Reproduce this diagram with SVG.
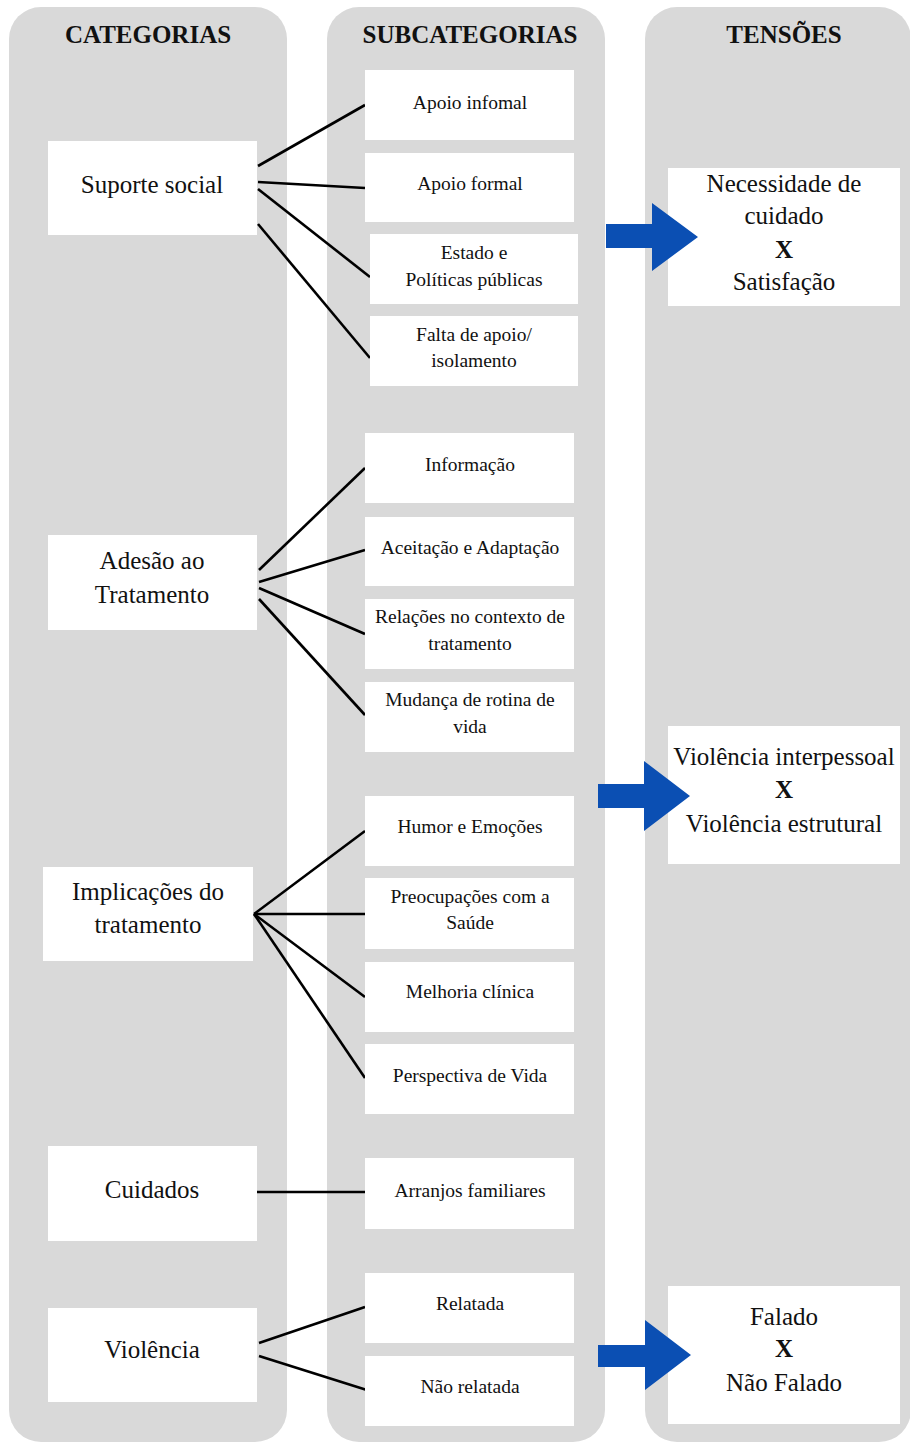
<svg xmlns="http://www.w3.org/2000/svg" width="910" height="1443" viewBox="0 0 910 1443">
<style>
.panel{fill:#d9d9d9}
.box{fill:#ffffff}
text{font-family:"Liberation Serif","Times New Roman",serif;fill:#111;text-anchor:middle}
.hd{font-size:25px;font-weight:bold}
.cat{font-size:25px}
.sub{font-size:19.5px}
.ten{font-size:25px}
.x{font-weight:bold}
.conn line{stroke:#000;stroke-width:2.6}
.arrow{fill:#0b4fb3}
</style>
<rect width="910" height="1443" fill="#ffffff"/>
<g id="panels">
<rect class="panel" x="9" y="7" width="278" height="1435" rx="32"/>
<rect class="panel" x="327" y="7" width="278" height="1435" rx="32"/>
<rect class="panel" x="645" y="7" width="266" height="1435" rx="32"/>
<text class="hd" x="148" y="43">CATEGORIAS</text>
<text class="hd" x="470" y="43">SUBCATEGORIAS</text>
<text class="hd" x="784" y="43">TENSÕES</text>
</g>
<g id="connectors" class="conn">
<line x1="258" y1="166" x2="365" y2="105"/>
<line x1="258" y1="182" x2="365" y2="188"/>
<line x1="258" y1="189" x2="370" y2="277"/>
<line x1="258" y1="224" x2="370" y2="358"/>
<line x1="259" y1="570" x2="365" y2="468"/>
<line x1="259" y1="582" x2="365" y2="550"/>
<line x1="259" y1="588" x2="365" y2="634"/>
<line x1="259" y1="599" x2="365" y2="715"/>
<line x1="254" y1="914" x2="365" y2="831"/>
<line x1="254" y1="914" x2="365" y2="914"/>
<line x1="254" y1="914" x2="365" y2="997"/>
<line x1="254" y1="914" x2="365" y2="1078"/>
<line x1="257" y1="1192" x2="365" y2="1192"/>
<line x1="259" y1="1343" x2="365" y2="1307"/>
<line x1="259" y1="1356" x2="370" y2="1391"/>
</g>
<g id="cat-suporte"><rect class="box" x="48" y="141" width="209" height="94"/><text class="cat" x="152" y="193">Suporte social</text></g>
<g id="cat-adesao"><rect class="box" x="48" y="535" width="209" height="95"/><text class="cat" x="152" y="569">Adesão ao</text><text class="cat" x="152" y="603">Tratamento</text></g>
<g id="cat-implicacoes"><rect class="box" x="43" y="867" width="210" height="94"/><text class="cat" x="148" y="900">Implicações do</text><text class="cat" x="148" y="933">tratamento</text></g>
<g id="cat-cuidados"><rect class="box" x="48" y="1146" width="209" height="95"/><text class="cat" x="152" y="1198">Cuidados</text></g>
<g id="cat-violencia"><rect class="box" x="48" y="1308" width="209" height="94"/><text class="cat" x="152" y="1358">Violência</text></g>
<g id="sub-apoio-infomal"><rect class="box" x="365" y="70" width="209" height="70"/><text class="sub" x="470" y="109">Apoio infomal</text></g>
<g id="sub-apoio-formal"><rect class="box" x="365" y="153" width="209" height="69"/><text class="sub" x="470" y="190">Apoio formal</text></g>
<g id="sub-estado"><rect class="box" x="370" y="234" width="208" height="70"/><text class="sub" x="474" y="259">Estado e</text><text class="sub" x="474" y="286">Políticas públicas</text></g>
<g id="sub-falta"><rect class="box" x="370" y="316" width="208" height="70"/><text class="sub" x="474" y="341">Falta de apoio/</text><text class="sub" x="474" y="367">isolamento</text></g>
<g id="sub-informacao"><rect class="box" x="365" y="433" width="209" height="70"/><text class="sub" x="470" y="471">Informação</text></g>
<g id="sub-aceitacao"><rect class="box" x="365" y="517" width="209" height="69"/><text class="sub" x="470" y="554">Aceitação e Adaptação</text></g>
<g id="sub-relacoes"><rect class="box" x="365" y="599" width="209" height="70"/><text class="sub" x="470" y="623">Relações no contexto de</text><text class="sub" x="470" y="650">tratamento</text></g>
<g id="sub-mudanca"><rect class="box" x="365" y="682" width="209" height="70"/><text class="sub" x="470" y="706">Mudança de rotina de</text><text class="sub" x="470" y="733">vida</text></g>
<g id="sub-humor"><rect class="box" x="365" y="796" width="209" height="70"/><text class="sub" x="470" y="833">Humor e Emoções</text></g>
<g id="sub-preocupacoes"><rect class="box" x="365" y="878" width="209" height="71"/><text class="sub" x="470" y="903">Preocupações com a</text><text class="sub" x="470" y="929">Saúde</text></g>
<g id="sub-melhoria"><rect class="box" x="365" y="962" width="209" height="70"/><text class="sub" x="470" y="998">Melhoria clínica</text></g>
<g id="sub-perspectiva"><rect class="box" x="365" y="1044" width="209" height="70"/><text class="sub" x="470" y="1082">Perspectiva de Vida</text></g>
<g id="sub-arranjos"><rect class="box" x="365" y="1158" width="209" height="71"/><text class="sub" x="470" y="1197">Arranjos familiares</text></g>
<g id="sub-relatada"><rect class="box" x="365" y="1273" width="209" height="70"/><text class="sub" x="470" y="1310">Relatada</text></g>
<g id="sub-nao-relatada"><rect class="box" x="365" y="1356" width="209" height="70"/><text class="sub" x="470" y="1393">Não relatada</text></g>
<g id="ten-cuidado"><rect class="box" x="668" y="168" width="232" height="138"/><text class="ten" x="784" y="192">Necessidade de</text><text class="ten" x="784" y="224">cuidado</text><text class="ten x" x="784" y="258">X</text><text class="ten" x="784" y="290">Satisfação</text></g>
<g id="ten-violencia"><rect class="box" x="668" y="726" width="232" height="138"/><text class="ten" x="784" y="765">Violência interpessoal</text><text class="ten x" x="784" y="798">X</text><text class="ten" x="784" y="832">Violência estrutural</text></g>
<g id="ten-falado"><rect class="box" x="668" y="1286" width="232" height="138"/><text class="ten" x="784" y="1325">Falado</text><text class="ten x" x="784" y="1357">X</text><text class="ten" x="784" y="1391">Não Falado</text></g>
<g id="arrows">
<polygon class="arrow" points="606,224 652,224 652,203 698,237 652,271 652,248 606,248"/>
<polygon class="arrow" points="598,784 644,784 644,761 690,796 644,831 644,808 598,808"/>
<polygon class="arrow" points="598,1345 645,1345 645,1320 691,1355 645,1390 645,1367 598,1367"/>
</g>
</svg>
